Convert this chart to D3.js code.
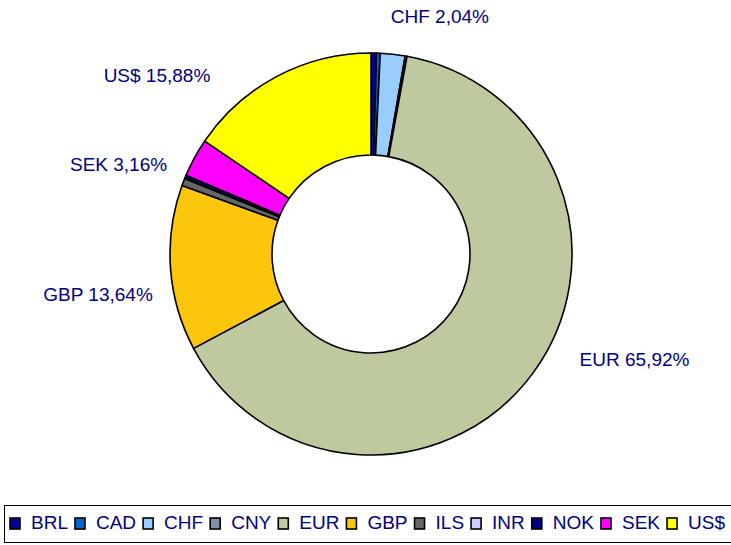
<!DOCTYPE html>
<html lang="en">
<head>
  <meta charset="UTF-8">
  <title>Currency split - doughnut</title>
  <script src="https://d3js.org/d3.v7.min.js"></script>
  <style>
    body {
      margin: 0;
      background: #fff;
      font-family: "Liberation Sans", Arial, sans-serif;
    }
    .slice {
      stroke: #000;
      stroke-width: 1.6px;
      stroke-linejoin: round;
    }
    .label, .legend text {
      font-size: 19px;
      fill: #000080;
    }
  </style>
</head>
<body>
  <svg id="chart" width="731" height="545"></svg>

  <script>
    // currencies, clockwise from 12 o'clock
    const currencies = ["BRL", "CAD", "CHF", "CNY", "EUR", "GBP", "ILS", "INR", "NOK", "SEK", "US$"];
    const shares     = [0.45, 0.3, 2.04, 0.15, 65.92, 13.64, 0.6, 0.05, 0.25, 3.16, 15.88];
    const labelText  = ["", "", "CHF 2,04%", "", "EUR 65,92%", "GBP 13,64%", "", "", "", "SEK 3,16%", "US$ 15,88%"];
    const colors     = ["#000099", "#0066CC", "#99CCFF", "#7F8FA9", "#BFC9A0", "#FBC60B",
                        "#666666", "#CCCCFF", "#000080", "#FF00FF", "#FFFF00"];

    // where each label sits (polar, degrees clockwise from top, px from centre)
    const labelPlace = {
      "CHF": [16.2, 247],
      "EUR": [111.9, 284],
      "GBP": [261.5, 276],
      "SEK": [289.6, 268],
      "US$": [309.9, 279]
    };

    const cx = 371, cy = 254, rOuter = 201, rInner = 99;

    const svg = d3.select("#chart");
    const data = currencies.map((c, i) => ({name: c, value: shares[i], label: labelText[i], color: colors[i]}));

    const pie = d3.pie().sort(null).value(d => d.value);
    const arc = d3.arc().innerRadius(rInner).outerRadius(rOuter);

    const g = svg.append("g").attr("transform", `translate(${cx},${cy})`);

    g.selectAll("path")
      .data(pie(data))
      .join("path")
      .attr("class", "slice")
      .attr("d", arc)
      .attr("fill", d => d.data.color);

    // data labels
    g.selectAll("text.label")
      .data(data.filter(d => d.label))
      .join("text")
      .attr("class", "label")
      .attr("text-anchor", "middle")
      .attr("dominant-baseline", "central")
      .attr("x", d => {
        const [a, r] = labelPlace[d.name];
        return r * Math.sin(a * Math.PI / 180);
      })
      .attr("y", d => {
        const [a, r] = labelPlace[d.name];
        return -r * Math.cos(a * Math.PI / 180);
      })
      .text(d => d.label);

    // legend box along the bottom
    const legend = svg.append("g").attr("class", "legend");
    legend.append("rect")
      .attr("x", 4.5).attr("y", 505.5)
      .attr("width", 740).attr("height", 37)
      .attr("fill", "none")
      .attr("stroke", "#000")
      .attr("stroke-width", 1);

    const items = legend.selectAll("g.item")
      .data(data)
      .join("g")
      .attr("class", "item");

    items.append("rect")
      .attr("width", 10).attr("height", 11)
      .attr("y", 518)
      .attr("fill", d => d.color)
      .attr("stroke", "#000")
      .attr("stroke-width", 1.6);

    items.append("text")
      .attr("x", 21)
      .attr("y", 529)
      .text(d => d.name);

    // lay legend items out left to right, spreading to fill the row
    const widths = [];
    items.select("text").each(function() { widths.push(this.getComputedTextLength()); });
    const startX = 10, endX = 725;
    const used = d3.sum(widths) + widths.length * 21;
    const gap = (endX - startX - used) / (widths.length - 1);
    let xPos = startX;
    items.each(function(d, i) {
      d3.select(this).attr("transform", `translate(${xPos},0)`);
      xPos += 21 + widths[i] + gap;
    });
  </script>
</body>
</html>
